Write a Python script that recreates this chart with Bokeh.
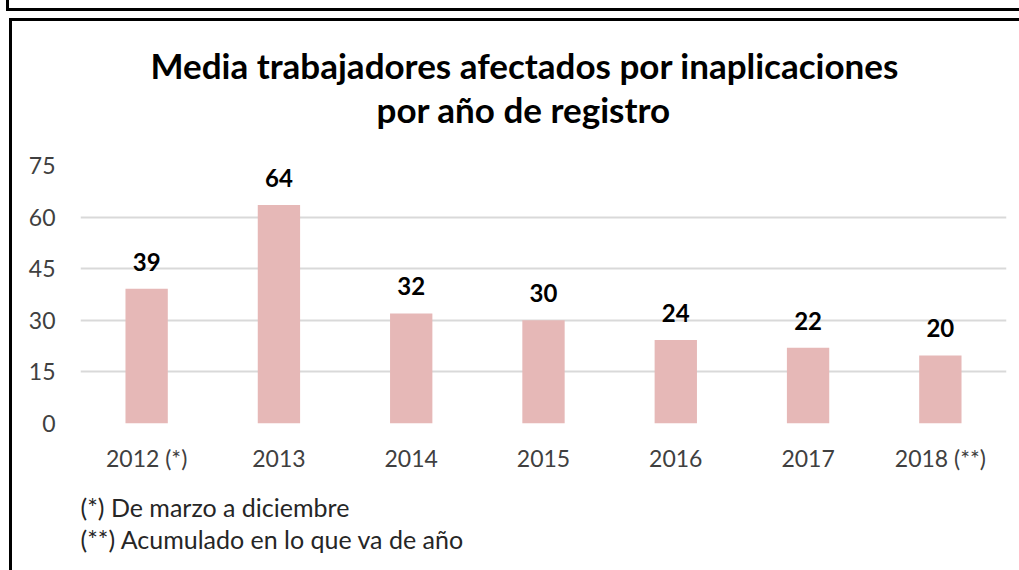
from bokeh.plotting import figure
from bokeh.models import ColumnDataSource, FixedTicker, Range1d, Title, Div
from bokeh.layouts import column
from bokeh.core.properties import value
from bokeh.embed import file_html
from bokeh.resources import INLINE

categories = ["2012 (*)", "2013", "2014", "2015", "2016", "2017", "2018 (**)"]
values = [39.2, 63.5, 32.0, 30.0, 24.3, 22.0, 19.8]
labels = ["39", "64", "32", "30", "24", "22", "20"]
y_ticks = [0, 15, 30, 45, 60, 75]
title_lines = ["Media trabajadores afectados por inaplicaciones", "por año de registro"]
notes = ["(*) De marzo a diciembre", "(**) Acumulado en lo que va de año"]

FONT = "Lato"
W, H = 1019, 570
L, R, T, B = 80, 13, 165, 147

src = ColumnDataSource(dict(cat=categories, val=values, lab=labels))

p = figure(x_range=categories, y_range=Range1d(0, 75), width=W, height=H,
           output_backend="svg", toolbar_location=None,
           min_border_left=L, min_border_right=R, min_border_top=T, min_border_bottom=B)
p.outline_line_color = None
p.background_fill_color = "white"
p.border_fill_color = "white"

p.vbar(x="cat", top="val", width=0.32, source=src, fill_color="#e6b8b7", line_color=None)
p.text(x="cat", y="val", text="lab", source=src, text_align="center", text_baseline="bottom",
       y_offset=-18, text_font=value(FONT), text_font_style="bold", text_font_size="24px",
       text_color="#000000")

p.yaxis.ticker = FixedTicker(ticks=y_ticks)
for ax in (p.xaxis[0], p.yaxis[0]):
    ax.axis_line_color = None
    ax.major_tick_line_color = None
    ax.minor_tick_line_color = None
    ax.major_label_text_font = FONT
    ax.major_label_text_font_size = "23px"
    ax.major_label_text_color = "#404040"
p.yaxis.major_label_standoff = 19
p.xaxis.major_label_standoff = 14
p.xgrid.grid_line_color = None
p.ygrid.grid_line_color = "#d9d9d9"
p.ygrid.grid_line_width = 2

# spacer + title lines (closest to the frame first)
p.add_layout(Title(text=" ", standoff=22, text_font=FONT, text_font_size="10px"), "above")
p.add_layout(Title(text=title_lines[1], align="left", offset=296, standoff=0, text_font=FONT,
                   text_font_style="bold", text_font_size="35px", text_color="#000000"), "above")
p.add_layout(Title(text=title_lines[0], align="left", offset=70, standoff=0, text_font=FONT,
                   text_font_style="bold", text_font_size="35px", text_color="#000000"), "above")
# spacer + footnotes
p.add_layout(Title(text=" ", standoff=1, text_font=FONT, text_font_size="10px"), "below")
p.add_layout(Title(text=notes[0], align="left", standoff=0, text_font=FONT,
                   text_font_style="normal", text_font_size="25px", text_color="#262626"), "below")
p.add_layout(Title(text=notes[1], align="left", standoff=0, text_font=FONT,
                   text_font_style="normal", text_font_size="25px", text_color="#262626"), "below")

frames = Div(
    text=('<div style="position:absolute;left:6px;top:0px;width:1013px;height:11px;'
          'border-left:3px solid #000;border-bottom:3px solid #000;box-sizing:border-box"></div>'
          '<div style="position:absolute;left:9px;top:18px;width:1010px;height:552px;'
          'border-left:3px solid #000;border-top:3px solid #000;box-sizing:border-box"></div>'),
    width=1, height=1, margin=0,
    styles={"position": "absolute", "left": "0px", "top": "0px", "z-index": "10",
            "overflow": "visible", "pointer-events": "none"})

open("out.html", "w").write(file_html(column(p, frames), INLINE))
